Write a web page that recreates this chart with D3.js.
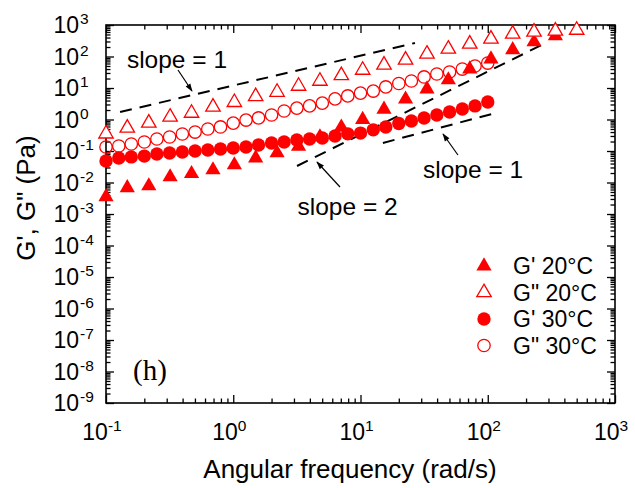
<!DOCTYPE html>
<html><head><meta charset="utf-8">
<script src="https://cdn.jsdelivr.net/npm/d3@7"></script>
<style>body{margin:0;background:#fff} svg{display:block}</style>
</head><body>
<svg id="c" width="635" height="488"></svg>
<script>
// ---- data ----
const freq20 = [0.1, 0.147, 0.217, 0.319, 0.470, 0.693, 1.02, 1.50, 2.21, 3.26, 4.80, 7.07, 10.4, 15.3, 22.6, 33.3, 49.0, 72.2, 106, 157, 231, 340, 500];
const gp20  = [0.0035, 0.0068, 0.0078, 0.015, 0.019, 0.025, 0.036, 0.060, 0.087, 0.14, 0.28, 0.57, 1.0, 2.1, 4.4, 9.3, 18, 40, 83, 163, 290, 450];
const gpp20 = [0.35, 0.54, 0.78, 1.2, 1.6, 2.5, 3.5, 5.4, 7.4, 11.5, 16.6, 25, 37, 54, 78, 120, 173, 250, 360, 520, 600, 650, 690];
const freq30 = [0.1, 0.126, 0.158, 0.2, 0.251, 0.316, 0.398, 0.501, 0.631, 0.794, 1, 1.26, 1.58, 2, 2.51, 3.16, 3.98, 5.01, 6.31, 7.94, 10, 12.6, 15.8, 20, 25.1, 31.6, 39.8, 50.1, 63.1, 79.4, 100];
const gp30  = [0.048, 0.060, 0.065, 0.069, 0.080, 0.086, 0.093, 0.10, 0.108, 0.116, 0.124, 0.134, 0.155, 0.18, 0.193, 0.223, 0.24, 0.26, 0.30, 0.35, 0.37, 0.47, 0.58, 0.75, 0.90, 1.12, 1.39, 1.73, 2.15, 2.7, 3.6];
const gpp30 = [0.134, 0.144, 0.167, 0.193, 0.24, 0.278, 0.346, 0.40, 0.50, 0.58, 0.77, 0.96, 1.12, 1.39, 1.86, 2.3, 2.7, 3.3, 4.5, 5.6, 6.9, 8.0, 10.8, 13.9, 16.7, 22.4, 27.8, 32.2, 40, 50, 62];
const xTickExps = [-1, 0, 1, 2, 3];
const yTickExps = [3, 2, 1, 0, -1, -2, -3, -4, -5, -6, -7, -8, -9];
const legendNames = ["G' 20°C", 'G" 20°C', "G' 30°C", 'G" 30°C'];
// guide lines (data coordinates)
const guideUpperX = [0.129, 26.8], guideUpperY = [1.73, 269];
const guideSlope2X = [3.17, 272], guideSlope2Y = [0.0334, 245];
const guideLowerX = [15.0, 108], guideLowerY = [0.18, 1.50];
const annotTexts = ["slope = 1", "slope = 2", "slope = 1"];

// ---- layout ----
const svg = d3.select("#c");
const L = 106, R = 615, T = 25, B = 403;
const x = d3.scaleLog().domain([0.1, 1000]).range([L, R]);
const y = d3.scaleLog().domain([1e-9, 1e3]).range([B, T]);
const RED = "#ff0000";
const FONT = "'Liberation Sans', Arial, sans-serif";

svg.append("rect").attr("width", 635).attr("height", 488).attr("fill", "#fff");

// ticks
const majorX = xTickExps.map(e => Math.pow(10, e));
const minorX = [];
for (let e = -1; e < 3; e++) for (let m = 2; m <= 9; m++) minorX.push(m * Math.pow(10, e));
const majorY = yTickExps.map(e => Math.pow(10, e));
const minorY = [];
for (let e = -9; e < 3; e++) for (let m = 2; m <= 9; m++) minorY.push(m * Math.pow(10, e));

function addAxis(gen, tr, vals, len) {
  const g = svg.append("g").attr("transform", tr)
    .call(gen.tickValues(vals).tickSizeInner(-len).tickSizeOuter(0).tickFormat(""));
  g.select(".domain").remove();
  g.selectAll("line").attr("stroke", "#000").attr("stroke-width", 1.3);
}
const MAJ = 8, MIN = 4.5;
addAxis(d3.axisBottom(x), `translate(0,${B})`, majorX, MAJ);
addAxis(d3.axisBottom(x), `translate(0,${B})`, minorX, MIN);
addAxis(d3.axisTop(x), `translate(0,${T})`, majorX, MAJ);
addAxis(d3.axisTop(x), `translate(0,${T})`, minorX, MIN);
addAxis(d3.axisLeft(y), `translate(${L},0)`, majorY, MAJ);
addAxis(d3.axisLeft(y), `translate(${L},0)`, minorY, MIN);
addAxis(d3.axisRight(y), `translate(${R},0)`, majorY, MAJ);
addAxis(d3.axisRight(y), `translate(${R},0)`, minorY, MIN);

// frame
svg.append("rect").attr("x", L).attr("y", T).attr("width", R - L).attr("height", B - T)
  .attr("fill", "none").attr("stroke", "#000").attr("stroke-width", 1.6);

// tick labels
const xl = svg.append("g").attr("font-family", FONT).attr("fill", "#000");
xTickExps.forEach(e => {
  const t = xl.append("text").attr("x", x(Math.pow(10, e)) - 4).attr("y", 440)
    .attr("text-anchor", "middle").attr("font-size", 23);
  t.append("tspan").text("10");
  t.append("tspan").attr("dy", -9).attr("font-size", 15.5).text(e);
});
const yl = svg.append("g").attr("font-family", FONT).attr("fill", "#000");
yTickExps.forEach(e => {
  const yy = y(Math.pow(10, e));
  yl.append("text").attr("x", 79).attr("y", yy + 8).attr("text-anchor", "end").attr("font-size", 23).text("10");
  yl.append("text").attr("x", 80).attr("y", yy - 1).attr("text-anchor", "start").attr("font-size", 15.5).text(e);
});

// axis titles
svg.append("text").attr("x", 350).attr("y", 478).attr("text-anchor", "middle")
  .attr("font-family", FONT).attr("font-size", 26).text("Angular frequency (rad/s)");
svg.append("text").attr("transform", "translate(35,198) rotate(-90)").attr("text-anchor", "middle")
  .attr("font-family", FONT).attr("font-size", 26).text('G\', G" (Pa)');

// guide lines
const line = d3.line().x(d => x(d[0])).y(d => y(d[1]));
[[guideUpperX, guideUpperY], [guideSlope2X, guideSlope2Y], [guideLowerX, guideLowerY]].forEach(([gx, gy]) => {
  svg.append("path").attr("d", line(d3.zip(gx, gy))).attr("fill", "none")
    .attr("stroke", "#000").attr("stroke-width", 2).attr("stroke-dasharray", "12,8");
});

// data points (circles first, then triangles)
const circ = (xs, ys, filled) => svg.append("g").selectAll("circle").data(d3.zip(xs, ys)).join("circle")
  .attr("cx", d => x(d[0])).attr("cy", d => y(d[1])).attr("r", filled ? 6.7 : 6.2)
  .attr("fill", filled ? RED : "none").attr("stroke", RED).attr("stroke-width", filled ? 0 : 1.3);
const tri = (xs, ys, filled) => svg.append("g").selectAll("path").data(d3.zip(xs, ys)).join("path")
  .attr("d", d3.symbol(d3.symbolTriangle, filled ? 100 : 90))
  .attr("transform", d => `translate(${x(d[0])},${y(d[1])})`)
  .attr("fill", filled ? RED : "#fff").attr("stroke", RED).attr("stroke-width", filled ? 0 : 1.3);

circ(freq30, gpp30, false);
circ(freq30, gp30, true);
tri(freq20, gp20, true);
tri(freq20, gpp20, false);

// annotations
svg.append("defs").append("marker").attr("id", "ah").attr("viewBox", "0 0 10 10")
  .attr("refX", 9).attr("refY", 5).attr("markerWidth", 10).attr("markerHeight", 8)
  .attr("markerUnits", "userSpaceOnUse").attr("orient", "auto")
  .append("path").attr("d", "M0,1.5 L10,5 L0,8.5 Z").attr("fill", "#000");
const arrows = [
  [[0.368, 37.3], [0.474, 8.04]],
  [[6.9, 0.0072], [4.55, 0.0448]],
  [[58.3, 0.0747], [44.5, 0.347]]
];
arrows.forEach(a => svg.append("path").attr("d", line(a)).attr("stroke", "#000")
  .attr("stroke-width", 1.2).attr("marker-end", "url(#ah)"));
const annotPos = [[0.146, 43], [3.2, 0.00093], [31, 0.0139]];
annotTexts.forEach((t, i) => svg.append("text").attr("x", x(annotPos[i][0])).attr("y", y(annotPos[i][1]))
  .attr("font-family", FONT).attr("font-size", 24.5).text(t));

svg.append("text").attr("x", 133).attr("y", 380).attr("font-family", "'Liberation Serif', 'Times New Roman', serif")
  .attr("font-size", 29).text("(h)");

// legend
const lg = svg.append("g").attr("transform", "translate(484,266)");
legendNames.forEach((n, i) => {
  const gy = i * 26.5;
  if (i < 2) {
    lg.append("path").attr("d", d3.symbol(d3.symbolTriangle, i === 0 ? 100 : 90))
      .attr("transform", `translate(0,${gy})`)
      .attr("fill", i === 0 ? RED : "#fff").attr("stroke", RED).attr("stroke-width", i === 0 ? 0 : 1.3);
  } else {
    lg.append("circle").attr("cx", 0).attr("cy", gy).attr("r", i === 2 ? 6.7 : 6.2)
      .attr("fill", i === 2 ? RED : "none").attr("stroke", RED).attr("stroke-width", i === 2 ? 0 : 1.3);
  }
  lg.append("text").attr("x", 29).attr("y", gy + 8).attr("font-family", FONT).attr("font-size", 23).text(n);
});
</script>
</body></html>
